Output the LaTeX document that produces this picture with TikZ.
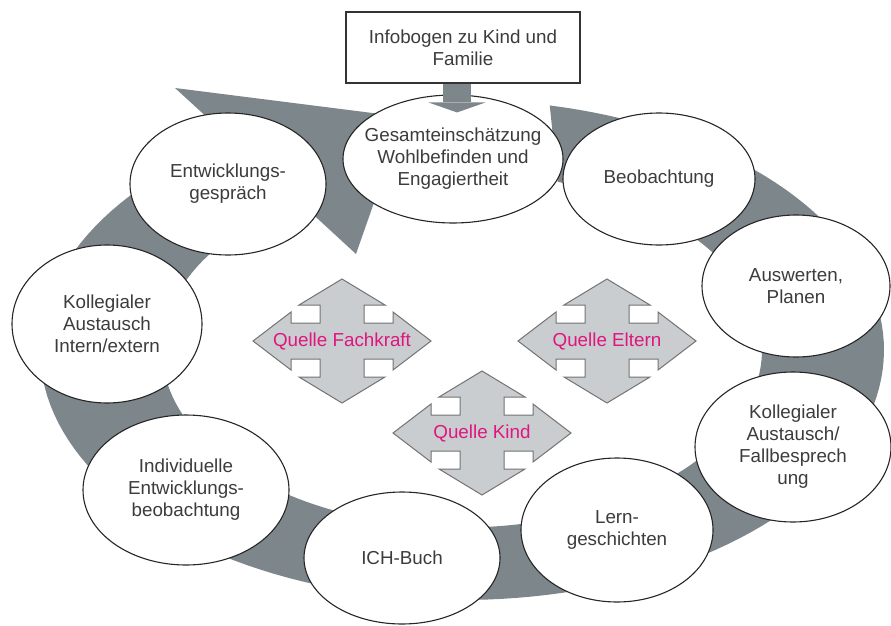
\documentclass[tikz,border=0pt]{standalone}
\usepackage{fontspec}
\setmainfont{Liberation Sans}
\usetikzlibrary{shapes.geometric, arrows.meta}
\definecolor{ringgray}{HTML}{7D868A}
\definecolor{crossgray}{HTML}{C9CDCF}
\definecolor{quelle}{HTML}{E0157F}
\definecolor{ink}{HTML}{3C3C3C}

\begin{document}
\begin{tikzpicture}[x=1pt, y=-1pt,
                    stage/.style={ellipse, draw=black!85, fill=white, line width=1.1pt, align=center, text=ink, inner sep=0pt},
                    cross/.style={draw=black!55, fill=crossgray, line width=1pt},
                    source/.style={text=quelle},
                    feed/.style={ringgray, line width=28pt, -{Triangle[width=57pt, length=10pt, line width=0pt]}}]
\fontsize{18.8}{22}\selectfont
\useasboundingbox (0,0) rectangle (891,626);

% cycle band with its head
\fill[ringgray] plot[domain=-78:237, samples=150] ({462+422*cos(\x)}, {350+250*sin(\x)})
    -- (175,88) -- (404,117) -- (356,254)
    -- plot[domain=237:-71.4, samples=150] ({462+300*cos(\x)}, {350+177.5*sin(\x)})
    -- cycle;

% stages
\node[stage, minimum width=220pt, minimum height=128pt, inner xsep=-12pt] (gesamt) at (453,159) {Gesamteinschätzung\\Wohlbefinden und\\Engagiertheit};
\node[stage, minimum width=192pt, minimum height=132pt] (beob) at (659,179) {Beobachtung};
\node[stage, minimum width=188pt, minimum height=142pt] (auswerten) at (796,286) {Auswerten,\\Planen};
\node[stage, minimum width=196pt, minimum height=150pt] (fall) at (793,447) {Kollegialer\\Austausch/\\Fallbesprech\\ung};
\node[stage, minimum width=192pt, minimum height=144pt] (lern) at (617,530) {Lern-\\geschichten};
\node[stage, minimum width=196pt, minimum height=132pt] (ich) at (402,558) {ICH-Buch};
\node[stage, minimum width=206pt, minimum height=150pt] (indiv) at (186,490) {Individuelle\\Entwicklungs-\\beobachtung};
\node[stage, minimum width=190pt, minimum height=158pt] (intern) at (107,324) {Kollegialer\\Austausch\\Intern/extern};
\node[stage, minimum width=196pt, minimum height=142pt] (gespraech) at (228,184) {Entwicklungs-\\gespräch};

% infobogen
\node[draw=black!80, line width=1.2pt, fill=white, minimum width=234pt, minimum height=71pt, align=center, text=ink] (infobogen) at (463,47.5) {Infobogen zu Kind und\\Familie};
\draw[feed] ([xshift=-6pt, yshift=-0.6pt]infobogen.south) -- ([xshift=4pt, yshift=-18pt]gesamt.north);

% sources
\foreach \px/\py/\name/\word in {342/341/fachkraft/Fachkraft, 607/341/eltern/Eltern, 482/433/kind/Kind}
{
  \draw[cross, shift={(\px,\py)}] (0,-62) -- (43,-36) -- (22,-36) -- (22,-18) -- (51,-18) -- (51,-29) -- (89,0)
    -- (51,29) -- (51,18) -- (22,18) -- (22,36) -- (43,36) -- (0,62) -- (-43,36) -- (-22,36) -- (-22,18)
    -- (-51,18) -- (-51,29) -- (-89,0) -- (-51,-29) -- (-51,-18) -- (-22,-18) -- (-22,-36) -- (-43,-36) -- cycle;
  \node[source] (\name) at (\px,\py) {Quelle \word};
}
\end{tikzpicture}
\end{document}
